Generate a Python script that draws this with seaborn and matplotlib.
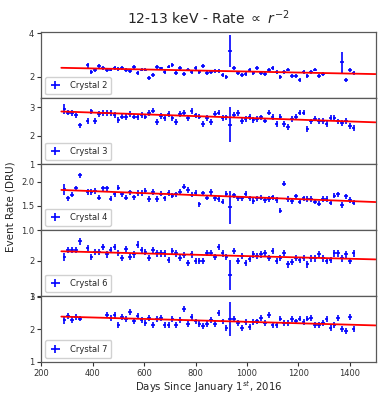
import numpy as np
import pandas as pd
import matplotlib
matplotlib.use("Agg")
import matplotlib.pyplot as plt
import seaborn as sns

nan = np.nan

# Bin centres (days since 2016-01-01), 15-day bins
days = [290, 305, 320, 335, 350, 365, 380, 395, 410, 425,
        440, 455, 470, 485, 500, 515, 530, 545, 560, 575,
        590, 605, 620, 635, 650, 665, 680, 695, 710, 725,
        740, 755, 770, 785, 800, 815, 830, 845, 860, 875,
        890, 905, 920, 935, 950, 965, 980, 995, 1010, 1025,
        1040, 1055, 1070, 1085, 1100, 1115, 1130, 1145, 1160, 1175,
        1190, 1205, 1220, 1235, 1250, 1265, 1280, 1295, 1310, 1325,
        1340, 1355, 1370, 1385, 1400, 1415]
bin_half_width = 7.0

crystals = ["Crystal 2", "Crystal 3", "Crystal 4", "Crystal 6", "Crystal 7"]

rate_c2 = [nan, nan, nan, nan, nan, nan,
           2.52, 2.23, 2.31, 2.50, 2.42, 2.30, 2.33, 2.42, 2.36, 2.39,
           2.30, 2.27, 2.44, 2.19, 2.33, 2.33, 1.95, 2.08, 2.45, 2.38,
           2.23, 2.47, 2.55, 2.19, 2.41, 2.14, 2.33, 2.23, 2.42, 2.22,
           2.48, 2.19, 2.20, 2.25, 2.28, 2.08, 1.97, 3.19, 2.39, 2.19,
           2.09, 2.12, 2.30, 2.16, 2.42, 2.16, 2.12, 2.31, 2.42, 2.20,
           2.00, 2.20, 2.33, 2.05, 2.05, 1.84, 2.23, 2.05, 2.20, 2.33,
           2.05, 2.14,
           nan, nan, nan, nan,
           2.66, 1.86, 2.30, 2.19]

rate_c3 = [2.93, 2.81, 2.79, 2.71, 2.36, nan,
           2.52, 2.85, 2.52, 2.77, 2.80, 2.79, 2.79, 2.73, 2.56, 2.67,
           2.65, 2.77, 2.67, 2.65, 2.73, 2.67, 2.79, 2.88, 2.47, 2.70,
           2.62, 2.76, 2.62, 2.48, 2.77, 2.79, 2.62, 2.87, 2.71, 2.67,
           2.41, 2.62, 2.48, 2.76, 2.81, 2.62, 2.64, 2.38, 2.73, 2.79,
           2.52, 2.58, 2.65, 2.56, 2.58, 2.64, 2.53, 2.81, 2.65, 2.42,
           2.67, 2.41, 2.30, 2.58, 2.67, 2.81, 2.81, 2.23, 2.50, 2.60,
           2.52, 2.52, 2.42, 2.62, 2.62, 2.50, 2.44, 2.52, 2.35, 2.27]

rate_c4 = [1.84, 1.66, 1.73, 1.86, 2.13, nan,
           1.79, 1.79, 1.81, 1.67, 1.86, 1.86, 1.65, 1.74, 1.88, 1.74,
           1.67, 1.78, 1.68, 1.77, 1.77, 1.81, 1.64, 1.79, 1.64, 1.75,
           1.66, 1.77, 1.71, 1.74, 1.79, 1.90, 1.83, 1.73, 1.77, 1.53,
           1.76, 1.67, 1.79, 1.66, 1.64, 1.59, 1.75, 1.47, 1.72, 1.66,
           1.66, 1.75, 1.66, 1.60, 1.66, 1.67, 1.62, 1.64, 1.68, 1.62,
           1.40, 1.96, 1.64, 1.60, 1.70, 1.59, 1.66, 1.64, 1.64, 1.59,
           1.55, 1.64, 1.64, 1.57, 1.71, 1.74, 1.52, 1.70, 1.62, 1.57]

rate_c6 = [2.11, 2.30, 2.30, 2.30, 2.55, nan,
           2.36, 2.11, 2.25, 2.25, 2.39, 2.18, 2.30, 2.39, 2.23, 2.08,
           2.33, 2.11, 2.18, 2.46, 2.30, 2.25, 2.08, 2.30, 2.21, 2.21,
           2.21, 2.02, 2.27, 2.21, 2.08, 2.16, 1.93, 2.18, 1.99, 1.99,
           1.99, 2.23, 2.23, 2.11, 2.39, 2.21, 2.11, 1.60, 2.27, 1.99,
           2.14, 1.94, 2.05, 2.18, 2.14, 2.18, 2.21, 2.08, 2.27, 1.99,
           2.08, 2.23, 1.90, 1.97, 2.08, 2.02, 2.08, 1.90, 2.07, 2.07,
           2.18, 2.07, 1.99, 2.02, 2.21, 2.21, 2.07, 2.18, 1.99, 2.21]

rate_c7 = [2.28, 2.41, 2.28, 2.38, 2.33,
           nan, nan, nan, nan, nan, nan,
           2.43, 2.35, 2.45, 2.12, 2.38, 2.31, 2.53, 2.24, 2.41, 2.28,
           2.20, 2.35, 2.14, 2.31, 2.35, 2.12, 2.12, 2.31, 2.12, 2.28,
           2.61, 2.17, 2.38, 2.24, 2.15, 2.10, 2.15, 2.28, 2.15, 2.51,
           2.24, 2.05, 2.33, 2.33, 2.20, 2.04, 2.22, 2.07, 2.22, 2.24,
           2.35, 2.20, 2.43, 2.12, 2.12, 2.33, 2.20, 2.20, 2.31, 2.24,
           2.33, 2.22, 2.33, 2.35, 2.14, 2.14, 2.20, 2.31, 2.04, 2.14,
           2.35, 2.02, 1.94, 2.38, 2.02]

rates = [rate_c2, rate_c3, rate_c4, rate_c6, rate_c7]

# Typical statistical uncertainty per crystal, plus the wider bins
typical_err = [0.09, 0.10, 0.055, 0.09, 0.09]
wide_err = [{6: 0.10, 43: 0.72, 72: 0.49},
            {0: 0.18, 43: 0.61},
            {0: 0.12, 43: 0.34},
            {0: 0.12, 43: 0.43},
            {0: 0.12, 43: 0.52}]

# r^-2 model evaluated over the fit range
fit_days = [278, 1500]
fit_c2 = [2.41, 2.12]
fit_c3 = [2.85, 2.47]
fit_c4 = [1.83, 1.58]
fit_c6 = [2.27, 2.04]
fit_c7 = [2.39, 2.12]
fits = [fit_c2, fit_c3, fit_c4, fit_c6, fit_c7]

# Axis ranges and ticks for each panel
ylims = [(1.0, 4.04), (1.0, 3.31), (1.0, 2.36), (1.0, 2.87), (1.0, 3.02)]
yticks = [[2, 4], [1, 2, 3], [1.0, 1.5, 2.0], [1, 2], [1, 2, 3]]
ytick_labels = [["2", "4"], ["1", "2", "3"], ["1.0", "1.5", "2.0"],
                ["1", "2"], ["1", "2", "3"]]

sns.set_style("ticks", {"axes.edgecolor": "0.35", "xtick.color": "0.2",
                        "ytick.color": "0.2", "xtick.direction": "out",
                        "ytick.direction": "out"})
plt.rcParams["font.family"] = ["DejaVu Sans"]

fig = plt.figure(figsize=(3.82, 3.96), dpi=100)
axes = fig.subplots(5, 1, sharex=True, gridspec_kw=dict(hspace=0))
fig.subplots_adjust(left=0.108, right=0.983, top=0.918, bottom=0.086)

for i, ax in enumerate(axes):
    df = pd.DataFrame({"day": days, "rate": rates[i]})
    err = np.array([wide_err[i].get(k, typical_err[i]) for k in range(len(days))])
    ok = df["rate"].notna().to_numpy()
    ax.errorbar(df["day"][ok], df["rate"][ok], yerr=err[ok],
                xerr=bin_half_width, fmt="none", ecolor="blue",
                elinewidth=1.2, label=crystals[i], zorder=2)
    sns.lineplot(x=fit_days, y=fits[i], ax=ax, color="red", linewidth=1.3,
                 zorder=3, legend=False)
    ax.set_ylim(*ylims[i])
    ax.set_yticks(yticks[i])
    ax.set_yticklabels(ytick_labels[i])
    ax.set_xlim(200, 1500)
    ax.tick_params(labelsize=6, length=3, width=0.8, pad=2)
    for sp in ax.spines.values():
        sp.set_linewidth(0.9)
    ax.set_ylabel("")
    ax.legend(loc="lower left", fontsize=6, handlelength=1.4,
              borderpad=0.5, handletextpad=1.0, frameon=True,
              fancybox=True, edgecolor="0.8", framealpha=0.9)

axes[-1].set_xticks([200, 400, 600, 800, 1000, 1200, 1400])
axes[-1].set_xlabel("Days Since January 1$^{st}$, 2016", fontsize=7.3, labelpad=1)
axes[0].set_title(r"12-13 keV - Rate $\propto$ $r^{-2}$", fontsize=10, pad=6)
fig.text(0.027, 0.477, "Event Rate (DRU)", rotation=90, fontsize=7.5,
         ha="center", va="center")

fig.savefig("out.png", dpi=100)
